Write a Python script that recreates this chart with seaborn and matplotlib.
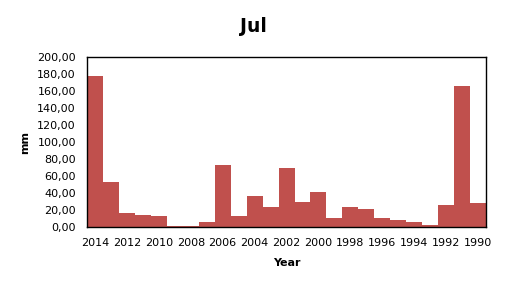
import numpy as np
import pandas as pd
import matplotlib
matplotlib.use('Agg')
import matplotlib.pyplot as plt
import seaborn as sns
from matplotlib.ticker import FuncFormatter

# Données
years = [2014, 2013, 2012, 2011, 2010, 2009, 2008, 2007, 2006, 2005, 2004, 2003, 2002,
         2001, 2000, 1999, 1998, 1997, 1996, 1995, 1994, 1993, 1992, 1991, 1990]
rain_mm = [178.0, 53.3, 16.9, 14.5, 13.3, 1.6, 1.4, 6.3, 73.3, 13.3, 36.9, 23.9, 69.8,
           29.8, 41.6, 11.0, 23.9, 21.6, 11.0, 8.6, 6.3, 2.7, 26.3, 166.3, 28.6]

df = pd.DataFrame({'Year': [str(y) for y in years], 'mm': rain_mm})

sns.set_style('white')
plt.rcParams['font.family'] = ['DejaVu Sans']
plt.rcParams['text.color'] = 'black'
plt.rcParams['axes.labelcolor'] = 'black'
plt.rcParams['xtick.color'] = 'black'
plt.rcParams['ytick.color'] = 'black'

fig = plt.figure(figsize=(5.06, 2.9), dpi=100)
ax = fig.add_axes([0.172, 0.216, 0.7885, 0.586])

sns.barplot(x='Year', y='mm', data=df, order=df['Year'], color='#C0504D',
            width=1.0, saturation=1, edgecolor='none', linewidth=0, ax=ax)

ax.set_xlim(-0.5, len(years) - 0.5)
ax.set_ylim(0, 200)
ax.set_yticks(np.arange(0, 201, 20))
ax.yaxis.set_major_formatter(FuncFormatter(lambda v, p: f'{v:.2f}'.replace('.', ',')))

# graduations aux bords des barres, étiquettes une année sur deux
ax.set_xticks(np.arange(-0.5, len(years), 1))
ax.set_xticklabels([])
ax.set_xticks(np.arange(0, len(years), 2), minor=True)
ax.set_xticklabels(df['Year'][::2], minor=True)
ax.tick_params(axis='x', which='major', direction='in', length=4, width=1, color='black')
ax.tick_params(axis='x', which='minor', length=0, pad=8, labelsize=8)
ax.tick_params(axis='y', direction='in', length=4, width=1, pad=8, labelsize=8)

for s in ax.spines.values():
    s.set_visible(True)
    s.set_color('black')
    s.set_linewidth(1)

ax.set_xlabel('Year', fontsize=8, fontweight='bold', labelpad=7)
ax.set_ylabel('mm', fontsize=8, fontweight='bold', labelpad=5)
fig.text(0.5, 0.909, 'Jul', ha='center', va='center', fontsize=13.5, fontweight='bold')

fig.savefig('out.png', dpi=100)
